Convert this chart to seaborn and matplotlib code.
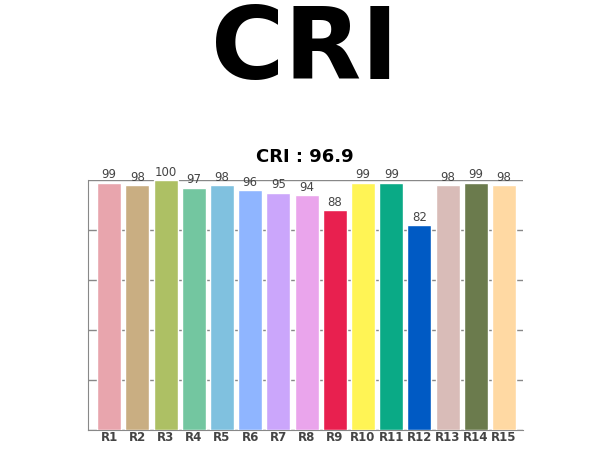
import matplotlib
matplotlib.use('Agg')
import matplotlib.pyplot as plt
import seaborn as sns
import pandas as pd

labels = ['R1', 'R2', 'R3', 'R4', 'R5', 'R6', 'R7', 'R8', 'R9', 'R10',
          'R11', 'R12', 'R13', 'R14', 'R15']
values = [99, 98, 100, 97, 98, 96, 95, 94, 88, 99, 99, 82, 98, 99, 98]
colors = ['#e8a5ad', '#c9ae82', '#adc064', '#73c6a0', '#80c1df', '#8fb5ff',
          '#cba6fb', '#eaa5ec', '#e8204f', '#fff455', '#0aaa86', '#005ac4',
          '#d9bcb8', '#6b7b4d', '#ffd9a3']
cri = 96.9

sns.set_style('white')
df = pd.DataFrame({'R': labels, 'v': values})

fig = plt.figure(figsize=(6.1, 4.5), dpi=100)
ax = fig.add_axes([88/610, 20/450, 435/610, 250/450])
sns.barplot(data=df, x='R', y='v', hue='R', palette=colors, legend=False,
            width=0.85, saturation=1, ax=ax, zorder=3)

for i, v in enumerate(values):
    ax.text(i, v + 0.5, str(v), ha='center', va='bottom', fontsize=8.5, color='#444444')

ax.set_ylim(0, 100)
ax.set_xlim(-0.75, 14.67)
ax.set_yticks(range(0, 101, 20))
ax.yaxis.grid(True, color='#888888', linewidth=1, zorder=0)
ax.tick_params(axis='y', left=False, labelleft=False)
ax.tick_params(axis='x', length=0, pad=1, labelsize=8.5, labelcolor='#444444')
for lab in ax.get_xticklabels():
    lab.set_fontweight('bold')
ax.set_xlabel('')
ax.set_ylabel('')
for s in ['top', 'right']:
    ax.spines[s].set_visible(False)
for s in ['left', 'bottom']:
    ax.spines[s].set_color('#888888')

fig.text(0.5, 1 - 52/450, 'CRI', ha='center', va='center',
         fontsize=72, fontweight='bold', color='black')
fig.text(0.5, 1 - 157/450, f'CRI : {cri}', ha='center', va='center',
         fontsize=13, fontweight='bold', color='black')

fig.savefig('out.png', dpi=100)
